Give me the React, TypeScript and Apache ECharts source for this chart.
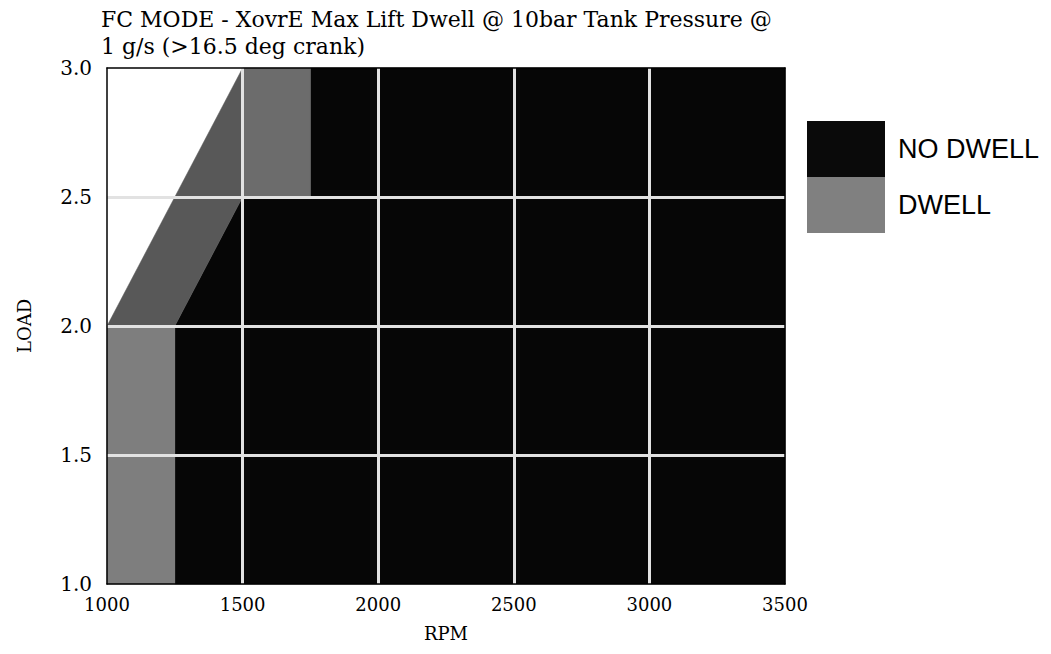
import React, { useEffect, useRef } from "react";
import * as echarts from "echarts";

const titleLines = [
  "FC MODE - XovrE Max Lift Dwell @ 10bar Tank Pressure @",
  "1 g/s (>16.5 deg crank)",
];
const xName = "RPM";
const yName = "LOAD";
const xTicks = [1000, 1500, 2000, 2500, 3000, 3500];
const yTicks = [1.0, 1.5, 2.0, 2.5, 3.0];
const legendNames = ["NO DWELL", "DWELL"];

// Region polygons as [RPM, LOAD] vertices
const noDwellRegions: number[][][] = [
  [[1250, 1.0], [3500, 1.0], [3500, 3.0], [1750, 3.0], [1750, 2.5], [1500, 2.5], [1250, 2.0]],
];
const dwellRegions: number[][][] = [
  [[1000, 1.0], [1250, 1.0], [1250, 2.0], [1000, 2.0]],
  [[1000, 2.0], [1250, 2.0], [1500, 2.5], [1500, 3.0]],
  [[1500, 2.5], [1750, 2.5], [1750, 3.0], [1500, 3.0]],
];
const noDwellShades = ["#060606"];
const dwellShades = ["#7e7e7e", "#585858", "#6c6c6c"];

const serif = "DejaVu Serif";

function polySeries(name: string, regions: number[][][], shades: string[], color: string) {
  return {
    name,
    type: "custom",
    z: 1,
    silent: true,
    itemStyle: { color },
    data: regions.map((_, i) => [i]),
    renderItem: (params: any, api: any) => {
      const idx = api.value(0);
      const pts = regions[idx].map((p) => api.coord(p));
      return {
        type: "polygon",
        shape: { points: pts },
        style: { fill: shades[idx], stroke: shades[idx], lineWidth: 0.5 },
      };
    },
  };
}

export default function App() {
  const ref = useRef<HTMLDivElement>(null);
  useEffect(() => {
    if (!ref.current) return;
    const chart = echarts.init(ref.current, undefined, { renderer: "svg" });
    const labelStyle = { fontFamily: serif, fontSize: 18, color: "#000" };
    chart.setOption({
      animation: false,
      backgroundColor: "#fff",
      title: {
        text: titleLines.join("\n"),
        left: 101,
        top: 6,
        padding: 0,
        textStyle: { fontFamily: serif, fontSize: 22, fontWeight: "normal", color: "#000", lineHeight: 27 },
      },
      legend: {
        orient: "vertical",
        left: 807,
        top: 121,
        padding: 0,
        itemGap: 0,
        itemWidth: 78,
        itemHeight: 56,
        icon: "rect",
        data: legendNames,
        selectedMode: false,
        textStyle: { fontFamily: "Liberation Sans", fontSize: 27, color: "#000", padding: [0, 0, 0, 8] },
      },
      grid: { left: 107, right: 266, top: 68, bottom: 70 },
      xAxis: [
        {
          type: "value",
          min: xTicks[0],
          max: xTicks[xTicks.length - 1],
          interval: 500,
          z: 10,
          name: xName,
          nameLocation: "middle",
          nameGap: 40,
          nameTextStyle: { fontFamily: serif, fontSize: 18, color: "#000" },
          axisLine: { show: true, lineStyle: { color: "#000", width: 1.5 } },
          axisTick: { show: false },
          axisLabel: { ...labelStyle, margin: 11, formatter: (v: number) => String(v) },
          splitLine: { show: true, showMinLine: false, showMaxLine: false, lineStyle: { color: "#e2e2e2", width: 3 } },
        },
        {
          type: "value",
          position: "top",
          min: xTicks[0],
          max: xTicks[xTicks.length - 1],
          z: 11,
          axisLine: { show: true, lineStyle: { color: "#000", width: 1.5 } },
          axisTick: { show: false },
          axisLabel: { show: false },
          splitLine: { show: false },
        },
      ],
      yAxis: [
        {
          type: "value",
          min: yTicks[0],
          max: yTicks[yTicks.length - 1],
          interval: 0.5,
          z: 10,
          name: yName,
          nameLocation: "middle",
          nameGap: 74,
          nameTextStyle: { fontFamily: serif, fontSize: 18, color: "#000" },
          axisLine: { show: true, lineStyle: { color: "#000", width: 1.5 } },
          axisTick: { show: false },
          axisLabel: { fontFamily: serif, fontSize: 20, color: "#000", margin: 15, formatter: (v: number) => v.toFixed(1) },
          splitLine: { show: true, showMinLine: false, showMaxLine: false, lineStyle: { color: "#e2e2e2", width: 3 } },
        },
        {
          type: "value",
          position: "right",
          min: yTicks[0],
          max: yTicks[yTicks.length - 1],
          z: 11,
          axisLine: { show: true, lineStyle: { color: "#000", width: 1.5 } },
          axisTick: { show: false },
          axisLabel: { show: false },
          splitLine: { show: false },
        },
      ],
      series: [
        polySeries(legendNames[0], noDwellRegions, noDwellShades, "#0a0a0a"),
        polySeries(legendNames[1], dwellRegions, dwellShades, "#808080"),
      ],
    });
    return () => chart.dispose();
  }, []);
  return <div ref={ref} style={{ width: 1051, height: 654, position: "absolute", left: 0, top: 0 }} />;
}
